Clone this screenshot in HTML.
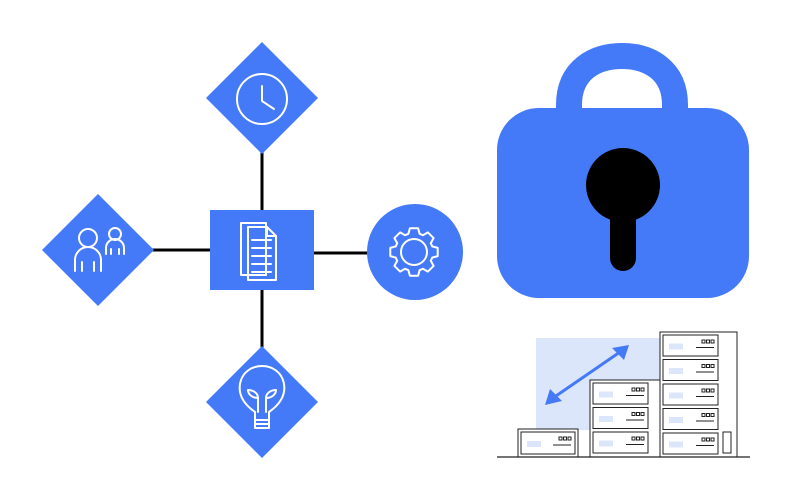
<!DOCTYPE html>
<html><head><meta charset="utf-8"><style>html,body{margin:0;padding:0;background:#fff}svg{display:block}</style></head>
<body>
<svg width="792" height="500" viewBox="0 0 792 500" xmlns="http://www.w3.org/2000/svg">
<g stroke="#000" stroke-width="3">
<line x1="262" y1="150" x2="262" y2="212"/>
<line x1="262" y1="288" x2="262" y2="350"/>
<line x1="150" y1="250" x2="212" y2="250"/>
<line x1="312" y1="253" x2="370" y2="253"/>
</g>
<g fill="#4479f8">
<polygon points="262,42 318,98 262,154 206,98"/>
<polygon points="98,194 154,250 98,306 42,250"/>
<polygon points="262,346 318,402 262,458 206,402"/>
<rect x="210" y="210" width="104" height="80"/>
<circle cx="415" cy="252" r="48"/>
</g>
<g fill="none" stroke="#fff" stroke-width="2" stroke-linecap="round" stroke-linejoin="round">
<circle cx="262" cy="99" r="25"/>
<polyline points="262,86 262,101 274,109"/>
<circle cx="88" cy="238" r="9"/>
<path d="M75,271 V260 a13,13 0 0 1 26,0 V271 M82,271 V262 M94,271 V262"/>
<circle cx="115" cy="234" r="6"/>
<path d="M106,254 V248 a9,9 0 0 1 18,0 V254 M111,254 V249 M119,254 V249"/>
<path d="M241,223 H266 V275 H241 Z"/>
<path d="M248,227 H267 L276,236 V280 H248 Z M267,227 V236 H276"/>
<path d="M252,240 H271 M252,248 H271 M252,256 H271 M252,264 H271 M252,272 H271"/>
<path d="M255,420 V412 C245,405 238,396 240,384 C242,372 252,366 262,366 C272,366 282,372 284,384 C286,396 279,405 269,412 V420 Z"/>
<path d="M255,420 H269 V428 H255 Z M255,424 H269 M258,412 V398 M266,412 V398"/>
<path d="M258,398 C252,398 248,394 248,390 C253,390 258,393 258,398 Z M266,398 C272,398 276,394 276,390 C271,390 266,393 266,398 Z"/>
<path id="gear"/>
<circle cx="414" cy="252" r="13"/>
</g>
<!-- lock -->
<path d="M569,115 V105 C569,70 595,56 622,56 C649,56 675,70 675,105 V115" fill="none" stroke="#4479f8" stroke-width="26"/>
<rect x="497" y="108" width="252" height="190" rx="42" fill="#4479f8"/>
<circle cx="623" cy="185" r="37" fill="#000"/>
<path d="M610,200 H636 V258 a13,13 0 0 1 -26,0 Z" fill="#000"/>
<!-- servers -->
<rect x="536" y="338" width="124" height="92" fill="#dbe6fb"/>
<line x1="553" y1="398" x2="620" y2="352" stroke="#4479f8" stroke-width="3"/>
<polygon points="545,405 550,389 562,401" fill="#4479f8"/>
<polygon points="629,345 612,348 624,360" fill="#4479f8"/>
<g fill="#fff" stroke="#222" stroke-width="1">
<rect x="518" y="429" width="60" height="28"/>
<rect x="590" y="380" width="70" height="77"/>
<rect x="660" y="332" width="77" height="125"/>
</g>
<g id="units" fill="none" stroke="#222" stroke-width="1"></g>
<rect x="723" y="432" width="8" height="21" fill="none" stroke="#222"/>
<line x1="497" y1="457" x2="750" y2="457" stroke="#222" stroke-width="1.2"/>
<script>
(function(){
var ns="http://www.w3.org/2000/svg";
var cx=414,cy=252,d="";
for(var i=0;i<8;i++){var a=i*Math.PI/4;
 var pts=[[19,a-0.30],[24,a-0.17],[24,a+0.17],[19,a+0.30]];
 pts.forEach(function(p,j){var x=cx+p[0]*Math.cos(p[1]),y=cy+p[0]*Math.sin(p[1]);d+=(i==0&&j==0?"M":"L")+x.toFixed(1)+","+y.toFixed(1);});}
document.getElementById("gear").setAttribute("d",d+"Z");
var g=document.getElementById("units");
function unit(x,y,w,h){
 var r=document.createElementNS(ns,"rect");r.setAttribute("x",x);r.setAttribute("y",y);r.setAttribute("width",w);r.setAttribute("height",h);g.appendChild(r);
 var b=document.createElementNS(ns,"rect");b.setAttribute("x",x+6);b.setAttribute("y",y+h/2-2);b.setAttribute("width",14);b.setAttribute("height",6);b.setAttribute("fill","#dbe6fb");b.setAttribute("stroke","none");g.appendChild(b);
 var l=document.createElementNS(ns,"line");l.setAttribute("x1",x+w-22);l.setAttribute("x2",x+w-4);l.setAttribute("y1",y+h/2+2);l.setAttribute("y2",y+h/2+2);g.appendChild(l);
 for(var k=0;k<3;k++){var s=document.createElementNS(ns,"rect");s.setAttribute("x",x+w-16+k*4.5);s.setAttribute("y",y+5);s.setAttribute("width",3);s.setAttribute("height",3);g.appendChild(s);}
}
unit(521,432,54,22);
for(var i=0;i<3;i++)unit(593,383+i*24.5,55,21);
for(var i=0;i<5;i++)unit(663,335+i*24.5,55,21);
})();
</script>
</svg>
</body></html>
